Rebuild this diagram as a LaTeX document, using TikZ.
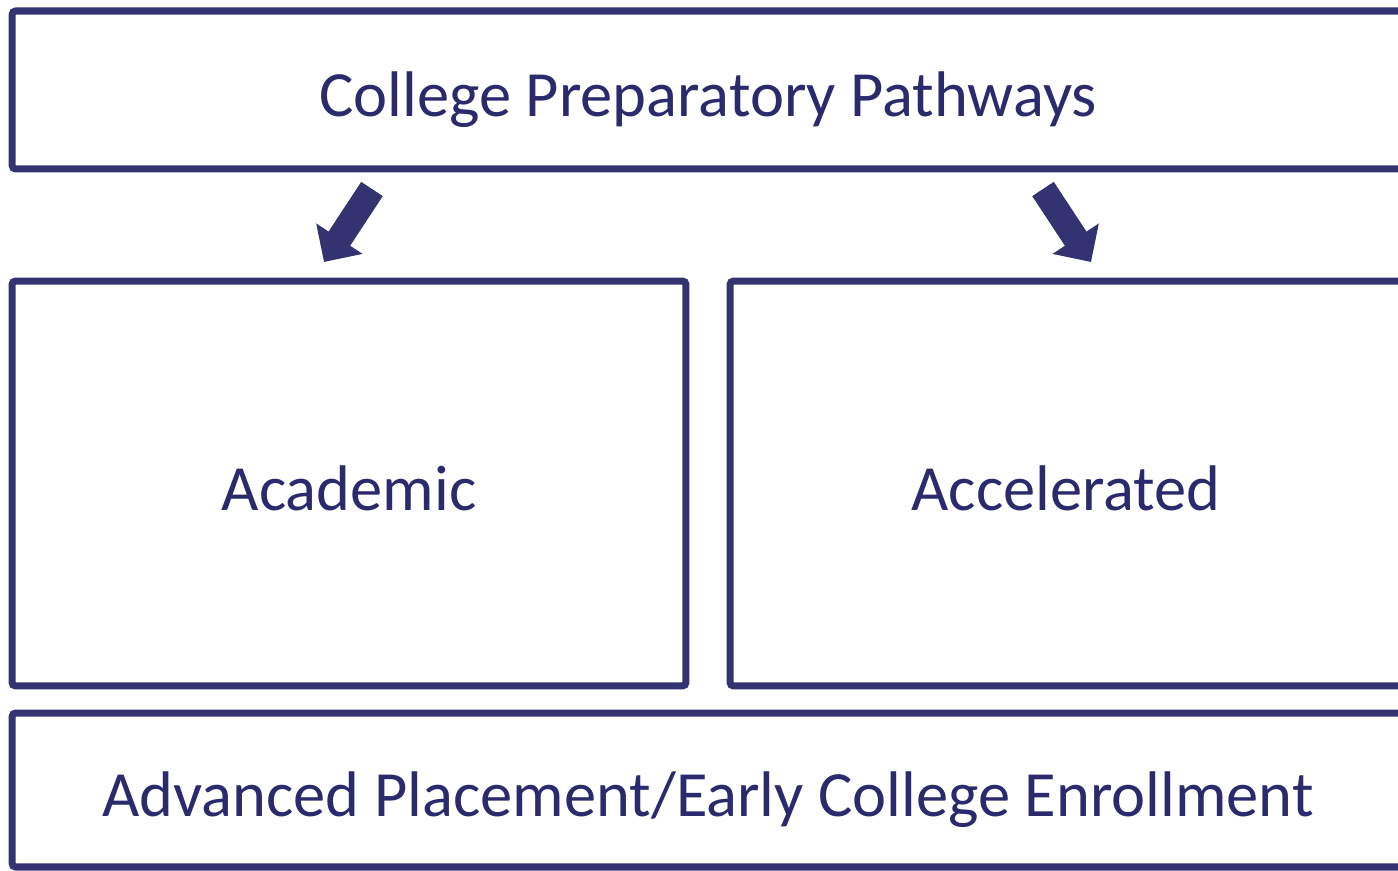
\documentclass[tikz,border=0pt]{standalone}
\usepackage{fontspec}
\setmainfont{Carlito}
\usetikzlibrary{arrows.meta}
\definecolor{navy}{HTML}{333372}
\definecolor{navytext}{HTML}{2A2A6C}
\begin{document}
\begin{tikzpicture}[x=0.02cm, y=-0.02cm,
    box/.style={draw=navy, line width=4pt, rounded corners=2pt, inner sep=0pt,
        text=navytext, font=\fontsize{36.7}{40}\selectfont, text height=30.6pt, text depth=0pt},
    bigarrow/.style={navy, line width=14.7pt, -{Triangle[width=30.6pt, length=15.9pt]}}]
    \useasboundingbox (0,0) rectangle (1398,871);

    % Nodes
    \node[box, minimum width=27.84cm, minimum height=3.16cm] (pathways) at (708,90) {College Preparatory Pathways};
    \node[box, minimum width=13.48cm, minimum height=8.1cm] (academic) at (349,483.5) {Academic};
    \node[box, minimum width=13.44cm, minimum height=8.1cm] (accelerated) at (1066,483.5) {Accelerated};
    \node[box, minimum width=27.84cm, minimum height=3.08cm] (apce) at (708,790) {Advanced Placement/Early College Enrollment};

    \coordinate (acadTail) at (372,189);
    \coordinate (acadTip) at (324,262);
    \coordinate (accTail) at (1043,189);
    \coordinate (accTip) at (1091,262);

    % Edges
    \draw[bigarrow] (acadTail) -- (acadTip);
    \draw[bigarrow] (accTail) -- (accTip);
\end{tikzpicture}
\end{document}
